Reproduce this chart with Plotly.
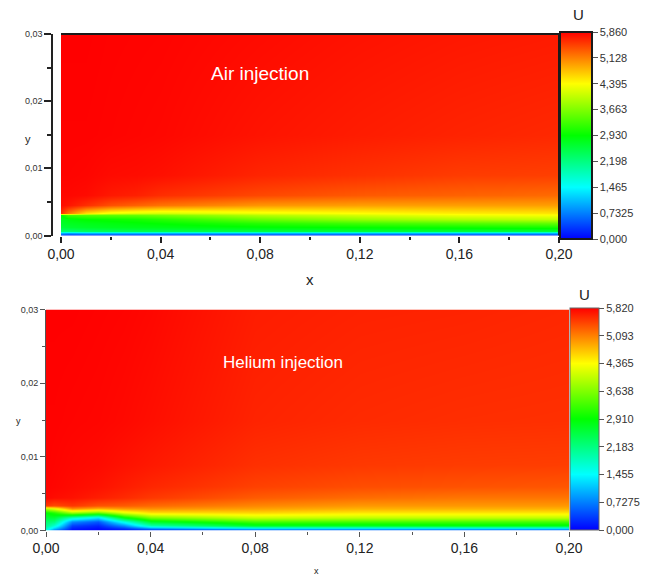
import numpy as np
import plotly.graph_objects as go

# Streamwise stations (m) and wall-normal levels (m) where the velocity profiles are sampled
x_stations = [0.0, 0.003, 0.01, 0.02, 0.03, 0.04, 0.08, 0.12, 0.16, 0.20]
y_levels = [0.0, 0.0003, 0.0007, 0.0012, 0.0018, 0.0025, 0.0030, 0.0034,
            0.0045, 0.006, 0.009, 0.015, 0.030]

# Velocity magnitude U, one profile (bottom -> top) per x station: air injection
air_u = [
    [0.0, 1.0, 2.3, 2.6, 2.7, 2.75, 2.9, 5.6, 5.8, 5.82, 5.84, 5.85, 5.86],
    [0.0, 0.9, 2.3, 2.65, 2.75, 2.85, 3.3, 5.2, 5.75, 5.82, 5.84, 5.85, 5.86],
    [0.0, 1.0, 2.4, 2.7, 2.8, 2.95, 3.4, 4.6, 5.6, 5.8, 5.83, 5.85, 5.86],
    [0.0, 1.0, 2.45, 2.75, 2.85, 3.0, 3.45, 4.3, 5.4, 5.72, 5.8, 5.84, 5.85],
    [0.0, 1.0, 2.5, 2.78, 2.9, 3.05, 3.5, 4.2, 5.3, 5.68, 5.79, 5.83, 5.845],
    [0.0, 1.0, 2.5, 2.8, 2.95, 3.15, 3.6, 4.15, 5.2, 5.6, 5.77, 5.82, 5.84],
    [0.0, 1.0, 2.55, 2.9, 3.15, 3.55, 3.95, 4.3, 5.0, 5.45, 5.65, 5.75, 5.8],
    [0.0, 1.0, 2.6, 2.95, 3.3, 3.8, 4.15, 4.4, 4.95, 5.35, 5.58, 5.7, 5.76],
    [0.0, 1.0, 2.6, 3.0, 3.4, 3.95, 4.3, 4.5, 4.95, 5.3, 5.52, 5.66, 5.73],
    [0.0, 1.0, 2.6, 3.05, 3.5, 4.05, 4.35, 4.55, 4.95, 5.25, 5.5, 5.63, 5.71],
]

# Velocity magnitude U: helium injection
helium_u = [
    [1.4, 1.8, 2.1, 2.3, 2.6, 2.9, 3.9, 5.5, 5.78, 5.8, 5.81, 5.81, 5.82],
    [0.5, 1.1, 1.7, 2.2, 2.6, 3.1, 4.2, 5.4, 5.75, 5.79, 5.8, 5.81, 5.82],
    [0.0, 0.15, 0.35, 0.8, 1.8, 3.8, 5.0, 5.5, 5.72, 5.76, 5.78, 5.8, 5.82],
    [0.0, 0.05, 0.2, 0.5, 1.3, 3.5, 4.8, 5.35, 5.65, 5.72, 5.76, 5.79, 5.81],
    [0.0, 0.25, 0.8, 1.6, 2.8, 4.2, 4.95, 5.3, 5.58, 5.66, 5.72, 5.77, 5.8],
    [0.0, 0.7, 1.9, 2.7, 3.6, 4.55, 5.0, 5.22, 5.5, 5.6, 5.68, 5.74, 5.78],
    [0.0, 1.2, 2.7, 3.3, 4.05, 4.6, 4.9, 5.05, 5.3, 5.45, 5.55, 5.62, 5.66],
    [0.0, 1.2, 2.7, 3.3, 4.0, 4.5, 4.8, 4.95, 5.2, 5.38, 5.5, 5.58, 5.63],
    [0.0, 1.2, 2.8, 3.3, 4.0, 4.5, 4.8, 4.95, 5.15, 5.35, 5.48, 5.56, 5.62],
    [0.0, 1.2, 2.8, 3.3, 4.0, 4.5, 4.8, 4.95, 5.15, 5.33, 5.47, 5.55, 5.6],
]

# Colour bar limits and labels
air_umax = 5.86
helium_umax = 5.82
air_cb_vals = [0.0, 0.7325, 1.465, 2.198, 2.930, 3.663, 4.395, 5.128, 5.860]
air_cb_text = ["0,000", "0,7325", "1,465", "2,198", "2,930", "3,663", "4,395", "5,128", "5,860"]
helium_cb_vals = [0.0, 0.7275, 1.455, 2.183, 2.910, 3.638, 4.365, 5.093, 5.820]
helium_cb_text = ["0,000", "0,7275", "1,455", "2,183", "2,910", "3,638", "4,365", "5,093", "5,820"]

# Axis ticks
x_major = [0.0, 0.04, 0.08, 0.12, 0.16, 0.20]
x_minor = [0.02, 0.06, 0.10, 0.14, 0.18]
y_major = [0.0, 0.01, 0.02, 0.03]
y_minor = [0.005, 0.015, 0.025]

rainbow = [
    [0.0, "rgb(0,0,255)"],
    [0.125, "rgb(0,128,255)"],
    [0.25, "rgb(0,255,255)"],
    [0.375, "rgb(0,255,128)"],
    [0.5, "rgb(0,255,0)"],
    [0.625, "rgb(128,255,0)"],
    [0.75, "rgb(255,255,0)"],
    [0.875, "rgb(255,128,0)"],
    [1.0, "rgb(255,0,0)"],
]

W, H = 658, 578


def px_x(p):
    return p / W


def px_y(p):
    return 1 - p / H


FONT = "Liberation Sans, Arial, sans-serif"

fig = go.Figure()

fig.add_trace(go.Heatmap(
    x=x_stations, y=y_levels, z=np.array(air_u).T,
    zmin=0, zmax=air_umax, colorscale=rainbow, zsmooth="best",
    xaxis="x", yaxis="y", hoverinfo="skip",
    colorbar=dict(
        x=px_x(560), xanchor="left", xpad=0,
        y=px_y(135.5), yanchor="middle", ypad=0,
        len=207, lenmode="pixels", thickness=32, thicknessmode="pixels",
        outlinewidth=2, outlinecolor="#1a1a1a",
        tickvals=air_cb_vals, ticktext=air_cb_text,
        ticks="outside", ticklen=5, tickcolor="#555",
        tickfont=dict(size=11, color="#333", family=FONT),
    ),
))

fig.add_trace(go.Heatmap(
    x=x_stations, y=y_levels, z=np.array(helium_u).T,
    zmin=0, zmax=helium_umax, colorscale=rainbow, zsmooth="best",
    xaxis="x2", yaxis="y2", hoverinfo="skip",
    colorbar=dict(
        x=px_x(570), xanchor="left", xpad=0,
        y=px_y(419), yanchor="middle", ypad=0,
        len=222, lenmode="pixels", thickness=29, thicknessmode="pixels",
        outlinewidth=1, outlinecolor="#666",
        tickvals=helium_cb_vals, ticktext=helium_cb_text,
        ticks="outside", ticklen=5, tickcolor="#555",
        tickfont=dict(size=11, color="#333", family=FONT),
    ),
))

common_x = dict(range=[0, 0.2], tickvals=x_major, tickformat=".2f", ticks="outside",
                showgrid=False, zeroline=False, automargin=False)
common_y = dict(range=[0, 0.03], tickvals=y_major, tickformat=".2f", ticks="outside",
                showgrid=False, zeroline=False, automargin=False)

fig.update_layout(
    width=W, height=H,
    margin=dict(l=0, r=0, t=0, b=0, autoexpand=False),
    paper_bgcolor="white", plot_bgcolor="white",
    separators=",.",
    font=dict(family=FONT, color="#222"),
    showlegend=False,
    xaxis=dict(common_x, domain=[px_x(61), px_x(559)], anchor="y",
               ticklen=6, tickwidth=1.5, tickcolor="#222", showline=False,
               tickfont=dict(size=14, color="#222"),
               minor=dict(tickvals=x_minor, ticks="outside", ticklen=3,
                          tickwidth=1.5, tickcolor="#222")),
    yaxis=dict(common_y, domain=[px_y(235.5), px_y(34)], anchor="free",
               position=px_x(52), showline=True, linecolor="#222", linewidth=1.5,
               ticklen=7, tickwidth=1.5, tickcolor="#222",
               tickfont=dict(size=9, color="#333"),
               minor=dict(tickvals=y_minor, ticks="outside", ticklen=4,
                          tickwidth=1.5, tickcolor="#222")),
    xaxis2=dict(common_x, domain=[px_x(46), px_x(569)], anchor="y2",
                ticklen=5, tickwidth=1, tickcolor="#555", showline=False,
                tickfont=dict(size=14, color="#222"),
                minor=dict(tickvals=x_minor, ticks="outside", ticklen=3,
                           tickwidth=1, tickcolor="#555")),
    yaxis2=dict(common_y, domain=[px_y(530.5), px_y(309.5)], anchor="x2",
                showline=True, linecolor="#555", linewidth=1,
                ticklen=5, tickwidth=1, tickcolor="#555",
                tickfont=dict(size=9, color="#333"),
                minor=dict(tickvals=y_minor, ticks="outside", ticklen=3,
                           tickwidth=1, tickcolor="#555")),
)

# Frame lines along the top and right edges of the upper panel
fig.add_shape(type="line", xref="x domain", yref="y domain", x0=0, x1=1, y0=1, y1=1,
              line=dict(color="#1a1a1a", width=2))
fig.add_shape(type="line", xref="x domain", yref="y domain", x0=1, x1=1, y0=0, y1=1,
              line=dict(color="#1a1a1a", width=2))

labels = [
    ("Air injection", 260, 74, 19, "white"),
    ("Helium injection", 283, 362, 17, "white"),
    ("U", 578, 14, 15, "#222"),
    ("U", 584, 294, 15, "#222"),
    ("x", 310, 279, 15, "#222"),
    ("y", 28, 139, 11, "#222"),
    ("x", 316, 571, 9, "#222"),
    ("y", 18, 421, 9, "#222"),
]
for text, lx, ly, size, color in labels:
    fig.add_annotation(text=text, xref="paper", yref="paper", x=px_x(lx), y=px_y(ly),
                       xanchor="center", yanchor="middle", showarrow=False,
                       font=dict(size=size, color=color, family=FONT))

fig.write_html("out.html")
